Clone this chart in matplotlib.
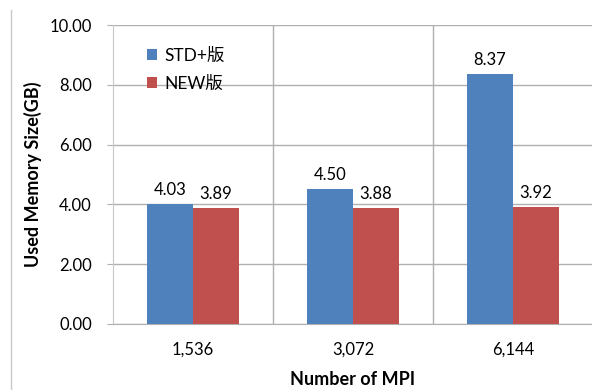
import numpy as np
import matplotlib.pyplot as plt
from matplotlib.lines import Line2D

plt.rcParams['font.family'] = ['Lato', 'Noto Sans CJK JP', 'DejaVu Sans']

categories = ['1,536', '3,072', '6,144']
std_vals = [4.03, 4.50, 8.37]
new_vals = [3.89, 3.88, 3.92]
series_names = ['STD+版', 'NEW版']

blue = '#4F81BD'
red = '#C0504D'
grid_c = '#B0B0B0'

fig = plt.figure(figsize=(5.92, 3.90), dpi=100)
ax = fig.add_axes([113 / 592, 1 - 324 / 390, 480 / 592, 299 / 390])

x = np.arange(len(categories))
w = 0.2875
b1 = ax.bar(x - w / 2, std_vals, w, color=blue, label=series_names[0], zorder=3)
b2 = ax.bar(x + w / 2, new_vals, w, color=red, label=series_names[1], zorder=3)

for bars, vals in ((b1, std_vals), (b2, new_vals)):
    for rect, v in zip(bars, vals):
        ax.text(rect.get_x() + rect.get_width() / 2, v + 0.2, f'{v:.2f}',
                ha='center', va='bottom', fontsize=12, color='black', zorder=4)

ax.set_xlim(-0.5, len(categories) - 0.5)
ax.set_ylim(0, 10)
ax.set_yticks(np.arange(0, 10.01, 2))
ax.set_yticklabels([f'{t:.2f}' for t in np.arange(0, 10.01, 2)])
ax.set_xticks(x)
ax.set_xticklabels(categories)

# horizontal gridlines and category separators
ax.grid(axis='y', color=grid_c, linewidth=1, zorder=0)
for s in np.arange(0.5, len(categories) - 0.5):
    ax.axvline(s, color=grid_c, linewidth=1, zorder=0)

for side in ['top', 'right']:
    ax.spines[side].set_visible(False)
ax.spines['left'].set_color('#C8C8C8')
ax.spines['bottom'].set_color(grid_c)

ax.tick_params(axis='y', length=4.3, color=grid_c, pad=11, labelsize=12)
ax.tick_params(axis='x', length=0, pad=13, labelsize=12)

ax.set_ylabel('Used Memory Size(GB)', fontsize=13, fontweight='bold', labelpad=5)
ax.set_xlabel('Number of MPI', fontsize=13, fontweight='bold', labelpad=9)

fig.legend(handles=[b1, b2], labels=series_names, loc='upper left',
           bbox_to_anchor=(131 / 592, 1 - 32 / 390), frameon=False,
           fontsize=12.5, handlelength=0.6, handleheight=0.6,
           handletextpad=0.4, labelspacing=0.68)

# outer chart border (left edge only visible)
fig.add_artist(Line2D([11 / 592, 11 / 592], [0, 1 - 10 / 390],
                      transform=fig.transFigure, color='#C8C8C8', linewidth=1))

fig.savefig('out.png', dpi=100)
